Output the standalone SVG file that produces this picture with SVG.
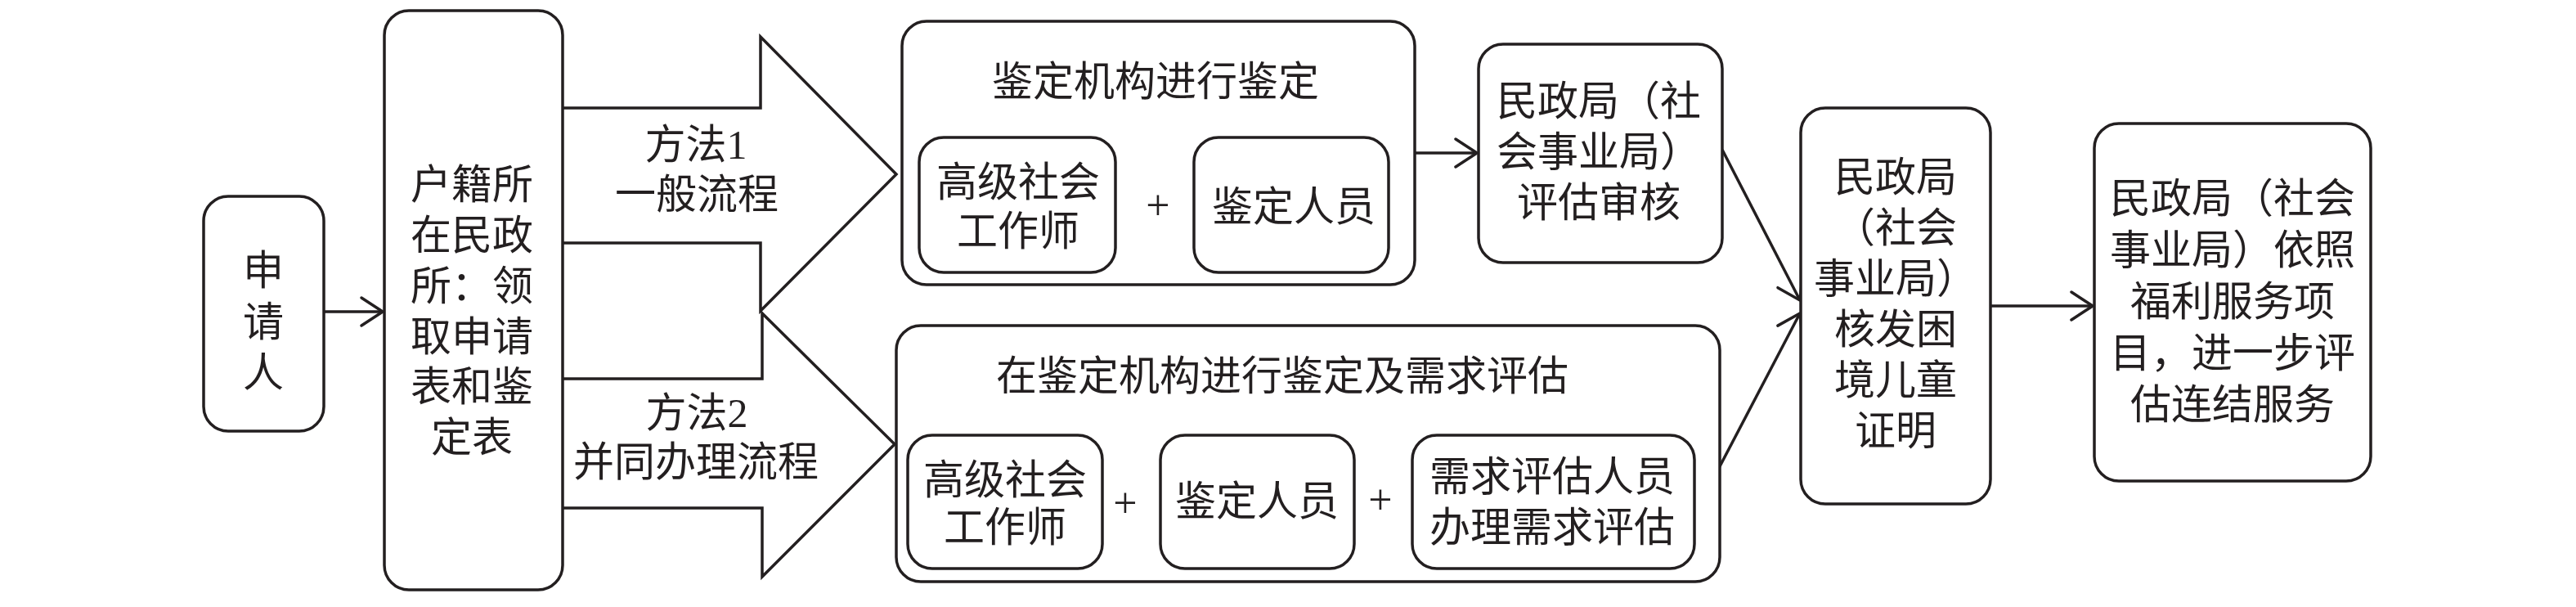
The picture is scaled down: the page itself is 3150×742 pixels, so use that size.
<svg xmlns="http://www.w3.org/2000/svg" width="3150" height="742" viewBox="0 0 3150 742">
<style>
.box{fill:#fff;stroke:#231f20;stroke-width:3.5}
.blk{fill:#fff;stroke:#231f20;stroke-width:3.5;stroke-linejoin:miter}
.ln{fill:none;stroke:#231f20;stroke-width:3.5}
text{font-family:"Liberation Serif","Noto Sans CJK SC",serif;font-size:50px;fill:#231f20;text-anchor:middle;dominant-baseline:central}
.plus{font-family:"Liberation Serif",serif;font-size:52px}
</style>
<defs>
<marker id="arr" viewBox="-32 -22 36 44" refX="0" refY="0" markerWidth="36" markerHeight="44" markerUnits="userSpaceOnUse" orient="auto">
<path d="M-26,-17 L0,0 L-26,17" fill="none" stroke="#231f20" stroke-width="3.5" stroke-linejoin="round" stroke-linecap="round"/>
</marker>
</defs>
<rect width="3150" height="742" fill="#fff"/>

<g id="connectors">
<line class="ln" x1="396" y1="381" x2="468" y2="381" marker-end="url(#arr)"/>
<line class="ln" x1="1730" y1="187" x2="1806" y2="187" marker-end="url(#arr)"/>
<line class="ln" x1="2106" y1="183" x2="2201" y2="367" marker-end="url(#arr)"/>
<line class="ln" x1="2102" y1="572" x2="2201" y2="383" marker-end="url(#arr)"/>
<line class="ln" x1="2434" y1="374" x2="2559" y2="374" marker-end="url(#arr)"/>
</g>

<g id="method1">
<polyline class="blk" points="688,132 930,132 930,45 1096,213 930,380 930,297 688,297"/>
<text x="851" y="177">方法1</text>
<text x="852" y="238">一般流程</text>
</g>
<g id="method2">
<polyline class="blk" points="688,463 932,463 932,383 1094,543 932,705 932,621 688,621"/>
<text x="852" y="505">方法2</text>
<text x="851" y="565">并同办理流程</text>
</g>

<g id="applicant">
<rect class="box" x="249" y="240" width="147" height="287" rx="30"/>
<text x="322" y="331">申</text>
<text x="322" y="394">请</text>
<text x="322" y="456">人</text>
</g>

<g id="huji">
<rect class="box" x="470" y="13" width="218" height="708" rx="30"/>
<text x="577" y="226">户籍所</text>
<text x="577" y="288">在民政</text>
<text x="577" y="350">所：领</text>
<text x="577" y="412">取申请</text>
<text x="577" y="473">表和鉴</text>
<text x="577" y="535">定表</text>
</g>

<g id="jianding">
<rect class="box" x="1103" y="26" width="627" height="322" rx="30"/>
<text x="1413" y="100">鉴定机构进行鉴定</text>
</g>
<g id="jd-social">
<rect class="box" x="1124" y="168" width="240" height="165" rx="30"/>
<text x="1245" y="223">高级社会</text>
<text x="1245" y="283">工作师</text>
</g>
<text class="plus" x="1416" y="250">+</text>
<g id="jd-staff">
<rect class="box" x="1460" y="168" width="238" height="165" rx="30"/>
<text x="1582" y="253">鉴定人员</text>
</g>

<g id="review">
<rect class="box" x="1808" y="54" width="298" height="267" rx="30"/>
<text x="1955" y="124">民政局（社</text>
<text x="1955" y="186">会事业局）</text>
<text x="1955" y="248">评估审核</text>
</g>

<g id="joint">
<rect class="box" x="1096" y="398" width="1007" height="313" rx="30"/>
<text x="1568" y="460">在鉴定机构进行鉴定及需求评估</text>
</g>
<g id="jt-social">
<rect class="box" x="1110" y="532" width="238" height="163" rx="30"/>
<text x="1229" y="587">高级社会</text>
<text x="1229" y="645">工作师</text>
</g>
<text class="plus" x="1376" y="614">+</text>
<g id="jt-staff">
<rect class="box" x="1419" y="532" width="237" height="163" rx="30"/>
<text x="1537" y="613">鉴定人员</text>
</g>
<text class="plus" x="1688" y="610">+</text>
<g id="jt-need">
<rect class="box" x="1727" y="532" width="345" height="163" rx="30"/>
<text x="1898" y="583">需求评估人员</text>
<text x="1898" y="645">办理需求评估</text>
</g>

<g id="certify">
<rect class="box" x="2202" y="132" width="232" height="484" rx="30"/>
<text x="2318" y="217">民政局</text>
<text x="2318" y="279">（社会</text>
<text x="2318" y="341">事业局）</text>
<text x="2318" y="403">核发困</text>
<text x="2318" y="465">境儿童</text>
<text x="2318" y="527">证明</text>
</g>

<g id="service">
<rect class="box" x="2561" y="151" width="338" height="437" rx="30"/>
<text x="2730" y="243">民政局（社会</text>
<text x="2730" y="306">事业局）依照</text>
<text x="2730" y="369">福利服务项</text>
<text x="2730" y="432">目，进一步评</text>
<text x="2730" y="495">估连结服务</text>
</g>
</svg>
